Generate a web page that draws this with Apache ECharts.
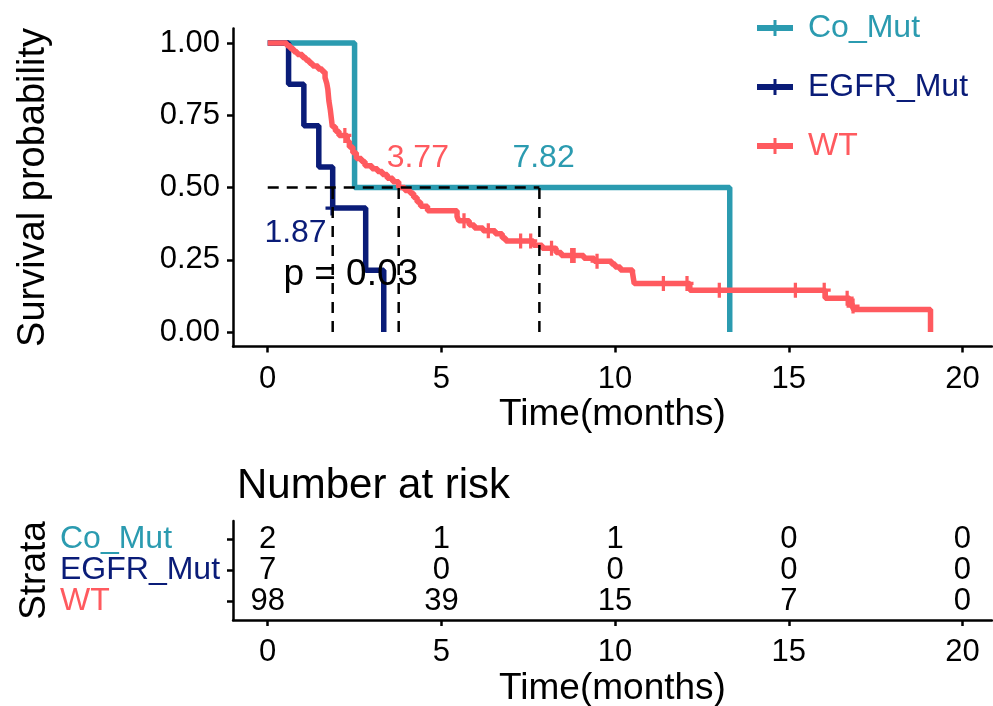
<!DOCTYPE html>
<html><head><meta charset="utf-8">
<script src="https://cdn.jsdelivr.net/npm/echarts@6/dist/echarts.min.js"></script>
<style>html,body{margin:0;padding:0;background:#fff}#c{width:993px;height:706px}</style>
</head><body><div id="c"></div>
<script>
// ---- data ----
const timeTicks = [0, 5, 10, 15, 20];
const survTicks = [0, 0.25, 0.5, 0.75, 1];
const strata = ['Co_Mut', 'EGFR_Mut', 'WT'];

const coMutTime = [0, 2.5, 13.3];
const coMutSurv = [1, 0.5, 0];

const egfrTime = [0, 0.6, 1.04, 1.47, 1.87, 2.82, 3.34];
const egfrSurv = [1, 0.857, 0.714, 0.571, 0.429, 0.214, 0];
const egfrCensorTime = [1.85];
const egfrCensorSurv = [0.429];

const wtTime = [0, 0.55, 0.65, 0.75, 0.85, 1.0, 1.1, 1.2, 1.29, 1.45, 1.57, 1.65, 1.7, 1.73, 1.76, 1.8, 1.83, 1.86, 1.95, 2.05,
  2.29, 2.35, 2.45, 2.55, 2.7, 2.8, 3.0, 3.16, 3.3, 3.44, 3.6, 3.77, 3.95, 4.1, 4.2, 4.3, 4.4, 4.6,
  5.45, 5.5, 5.8, 5.95, 6.2, 6.55, 6.75, 6.85, 7.65, 7.9, 8.3, 8.45, 9.1, 9.4, 9.9, 10.0, 10.15, 10.5, 10.55,
  12.15, 16.05, 16.75, 16.82, 16.87, 19.08];
const wtSurv = [1, 0.99, 0.98, 0.97, 0.96, 0.95, 0.94, 0.93, 0.92, 0.91, 0.90, 0.88, 0.86, 0.84, 0.80, 0.77, 0.74, 0.71, 0.695, 0.68,
  0.66, 0.64, 0.62, 0.60, 0.59, 0.575, 0.565, 0.555, 0.545, 0.532, 0.52, 0.50, 0.49, 0.48, 0.465, 0.45, 0.435, 0.42,
  0.40, 0.385, 0.37, 0.36, 0.35, 0.34, 0.325, 0.315, 0.30, 0.29, 0.275, 0.265, 0.255, 0.245, 0.235, 0.225, 0.215, 0.205, 0.168,
  0.145, 0.117, 0.10, 0.09, 0.078, 0];
const wtCensorTime = [2.22, 5.65, 6.35, 7.28, 7.57, 8.17, 8.75, 8.82, 9.48, 11.39, 12.07, 13.0, 15.19, 16.02, 16.68, 16.85];
const wtCensorSurv = [0.68, 0.385, 0.35, 0.315, 0.315, 0.29, 0.265, 0.265, 0.245, 0.168, 0.168, 0.145, 0.145, 0.145, 0.117, 0.09];

const medianTimes = [1.87, 3.77, 7.82];
const medianLabels = ['1.87', '3.77', '7.82'];
const pValueText = 'p = 0.03';

const riskTimes = [0, 5, 10, 15, 20];
const riskCoMut = [2, 1, 1, 0, 0];
const riskEgfr = [7, 0, 0, 0, 0];
const riskWT = [98, 39, 15, 7, 0];

// ---- style ----
const col = { Co_Mut: '#2B9BB0', EGFR_Mut: '#0A1C78', WT: '#FF5A5F' };
const FONT = 'Liberation Sans, Arial, sans-serif';
const zip = (a, b) => a.map((v, i) => [v, b[i]]);
const plusPath = 'path://M-1.5,-7H1.5V7H-1.5Z M-6,-1.5H6V1.5H-6Z';

const chart = echarts.init(document.getElementById('c'), null, { renderer: 'canvas' });

const axisCommon = {
  axisLine: { show: true, onZero: false, lineStyle: { color: '#000', width: 2.5 } },
  axisTick: { show: true, length: 6, lineStyle: { color: '#000', width: 2.5 } },
  splitLine: { show: false }
};

function xAxis(gridIndex) {
  return Object.assign({}, axisCommon, {
    type: 'value', gridIndex, min: -1, max: 20.85,
    name: 'Time(months)', nameLocation: 'middle', nameGap: 50,
    nameTextStyle: { fontFamily: FONT, fontSize: 37, color: '#000' },
    axisTick: Object.assign({}, axisCommon.axisTick, { customValues: timeTicks }),
    axisLabel: { customValues: timeTicks, fontFamily: FONT, fontSize: 31, color: '#000', margin: 17, hideOverlap: false }
  });
}

const medianLabelPos = [[0.8, 0.343], [4.32, 0.602], [7.94, 0.602]];
const medianColors = [col.EGFR_Mut, col.WT, col.Co_Mut];

const dashStyle = { color: '#000', width: 2.5, type: [11, 8] };
const LW = 5.5;

const series = [
  { name: 'Co_Mut', type: 'line', step: 'end', data: zip(coMutTime, coMutSurv), symbol: 'none',
    lineStyle: { color: col.Co_Mut, width: LW }, itemStyle: { color: col.Co_Mut }, xAxisIndex: 0, yAxisIndex: 0, z: 2 },
  { name: 'EGFR_Mut', type: 'line', step: 'end', data: zip(egfrTime, egfrSurv), symbol: 'none',
    lineStyle: { color: col.EGFR_Mut, width: LW }, itemStyle: { color: col.EGFR_Mut }, xAxisIndex: 0, yAxisIndex: 0, z: 3 },
  { name: 'WT', type: 'line', step: 'end', data: zip(wtTime, wtSurv), symbol: 'none',
    lineStyle: { color: col.WT, width: LW }, itemStyle: { color: col.WT }, xAxisIndex: 0, yAxisIndex: 0, z: 4 },
  { name: 'EGFR_Mut', type: 'scatter', data: zip(egfrCensorTime, egfrCensorSurv), symbol: plusPath, symbolSize: [13, 15],
    itemStyle: { color: col.EGFR_Mut, opacity: 1 }, xAxisIndex: 0, yAxisIndex: 0, z: 3, silent: true },
  { name: 'WT', type: 'scatter', data: zip(wtCensorTime, wtCensorSurv), symbol: plusPath, symbolSize: [13, 15],
    itemStyle: { color: col.WT, opacity: 1 }, xAxisIndex: 0, yAxisIndex: 0, z: 4, silent: true },
  // median dashed lines
  { type: 'line', data: [[0, 0.5], [Math.max(...medianTimes), 0.5]], symbol: 'none', lineStyle: dashStyle,
    xAxisIndex: 0, yAxisIndex: 0, z: 6, silent: true },
  ...medianTimes.map(t => ({ type: 'line', data: [[t, 0], [t, 0.5]], symbol: 'none', lineStyle: dashStyle,
    xAxisIndex: 0, yAxisIndex: 0, z: 6, silent: true })),
  // median labels
  { type: 'scatter', symbolSize: 0, xAxisIndex: 0, yAxisIndex: 0, z: 7, silent: true, itemStyle: { opacity: 1 },
    data: medianLabels.map((l, i) => ({ value: medianLabelPos[i], label: { show: true, position: 'inside', formatter: l,
      color: medianColors[i], fontFamily: FONT, fontSize: 32 } })) },
  // p value
  { type: 'scatter', symbolSize: 0, xAxisIndex: 0, yAxisIndex: 0, z: 7, silent: true, itemStyle: { opacity: 1 },
    data: [{ value: [2.39, 0.197], label: { show: true, position: 'inside', formatter: pValueText,
      color: '#000', fontFamily: FONT, fontSize: 37 } }] },
  // strata labels of the risk table (left of the axis, left-aligned)
  { type: 'scatter', symbolSize: 0, xAxisIndex: 1, yAxisIndex: 1, silent: true, clip: false, itemStyle: { opacity: 1 },
    data: strata.map((n, i) => ({ value: [-1, 3 - i], label: { show: true, position: [-173, 0], align: 'left', verticalAlign: 'middle',
      formatter: n, color: col[n], fontFamily: FONT, fontSize: 32 } })),
    labelLayout: { hideOverlap: false } },
  // risk table
  ...[[riskCoMut, 3], [riskEgfr, 2], [riskWT, 1]].map(([vals, row]) => ({
    type: 'scatter', symbolSize: 0, xAxisIndex: 1, yAxisIndex: 1, silent: true, itemStyle: { opacity: 1 },
    data: vals.map((v, i) => [riskTimes[i], row, v]),
    label: { show: true, position: 'inside', formatter: p => String(p.value[2]), color: '#000', fontFamily: FONT, fontSize: 31 },
    labelLayout: { hideOverlap: false }
  }))
];

const option = {
  animation: false,
  backgroundColor: '#fff',
  grid: [
    { left: 233, top: 28.5, width: 759, height: 318, outerBoundsMode: 'none', containLabel: false },
    { left: 233, top: 521, width: 759, height: 99, outerBoundsMode: 'none', containLabel: false }
  ],
  xAxis: [xAxis(0), xAxis(1)],
  yAxis: [
    Object.assign({}, axisCommon, {
      type: 'value', gridIndex: 0, min: -0.05, max: 1.05,
      name: 'Survival probability', nameLocation: 'middle', nameGap: 180, nameRotate: 90,
      nameTextStyle: { fontFamily: FONT, fontSize: 38, color: '#000' },
      axisTick: Object.assign({}, axisCommon.axisTick, { customValues: survTicks }),
      axisLabel: { customValues: survTicks, formatter: v => v.toFixed(2), fontFamily: FONT, fontSize: 31, color: '#000', margin: 13, hideOverlap: false }
    }),
    Object.assign({}, axisCommon, {
      type: 'value', gridIndex: 1, min: 0.4, max: 3.6,
      name: 'Strata', nameLocation: 'middle', nameGap: 180, nameRotate: 90,
      nameTextStyle: { fontFamily: FONT, fontSize: 37, color: '#000' },
      axisTick: Object.assign({}, axisCommon.axisTick, { customValues: [1, 2, 3] }),
      axisLabel: { show: false }
    })
  ],
  title: { text: 'Number at risk', left: 232, top: 460, textStyle: { fontFamily: FONT, fontSize: 42, fontWeight: 'normal', color: '#000' } },
  legend: {
    orient: 'vertical', left: 752, top: 5, itemWidth: 36, itemHeight: 16, itemGap: 23,
    data: strata.map(n => ({ name: n, icon: 'path://M0,5H36V11H0Z M16.5,0H19.5V16H16.5Z', itemStyle: { color: col[n] },
      textStyle: { color: col[n], fontFamily: FONT, fontSize: 32, lineHeight: 36 } })),
    textStyle: { padding: [0, 0, 0, 10] }
  },
  series
};
chart.setOption(option);
</script></body></html>
